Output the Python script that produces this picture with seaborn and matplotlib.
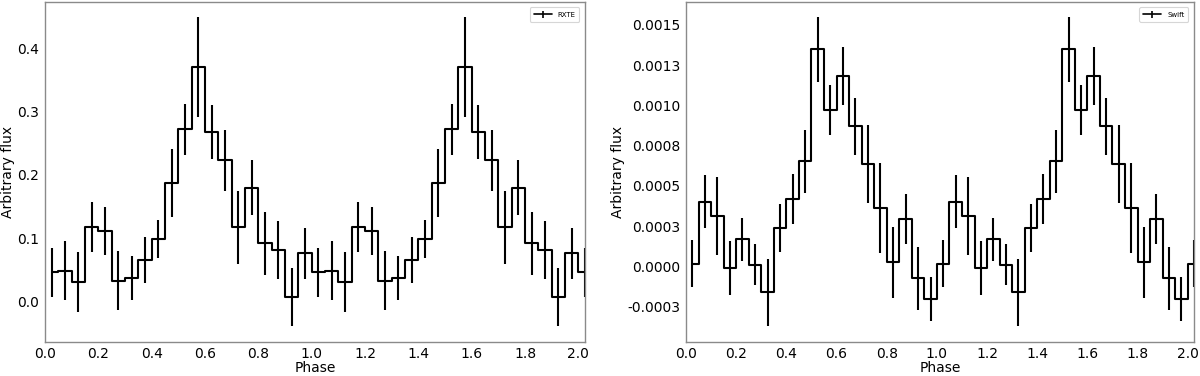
import numpy as np
import pandas as pd
import matplotlib
matplotlib.use("Agg")
import matplotlib.pyplot as plt
import seaborn as sns
from matplotlib.ticker import AutoMinorLocator, FixedLocator, FixedFormatter

# ---- data (one phase cycle, 20 bins; shown twice) ----
phase_centers = [0.025, 0.075, 0.125, 0.175, 0.225, 0.275, 0.325, 0.375, 0.425, 0.475,
                 0.525, 0.575, 0.625, 0.675, 0.725, 0.775, 0.825, 0.875, 0.925, 0.975]

rxte_flux = [0.046, 0.049, 0.031, 0.118, 0.111, 0.033, 0.037, 0.066, 0.099, 0.187,
             0.272, 0.370, 0.268, 0.223, 0.117, 0.180, 0.092, 0.082, 0.007, 0.076]
rxte_err = [0.039, 0.046, 0.047, 0.040, 0.038, 0.047, 0.035, 0.036, 0.030, 0.054,
            0.040, 0.079, 0.043, 0.048, 0.058, 0.043, 0.050, 0.046, 0.046, 0.040]

swift_flux = [0.000017, 0.000403, 0.000314, -0.000010, 0.000168, 0.000010, -0.000161, 0.000240,
              0.000420, 0.000652, 0.001347, 0.000970, 0.001183, 0.000869, 0.000635, 0.000362,
              0.000027, 0.000294, -0.000072, -0.000200]
swift_err = [0.000147, 0.000167, 0.000240, 0.000170, 0.000135, 0.000128, 0.000210, 0.000150,
             0.000156, 0.000195, 0.000200, 0.000154, 0.000178, 0.000176, 0.000244, 0.000280,
             0.000220, 0.000154, 0.000195, 0.000137]

swift_ticks = [-0.00025, 0.0, 0.00025, 0.0005, 0.00075, 0.001, 0.00125, 0.0015]
swift_tick_labels = ["-0.0003", "0.0000", "0.0003", "0.0005", "0.0008", "0.0010", "0.0013", "0.0015"]
x_ticks = [0.0, 0.2, 0.4, 0.6, 0.8, 1.0, 1.2, 1.4, 1.6, 1.8, 2.0]


def two_cycles(centers, vals, errs):
    x = list(centers) + [c + 1 for c in centers] + [centers[0] + 2]
    y = list(vals) * 2 + [vals[0]]
    e = list(errs) * 2 + [errs[0]]
    return pd.DataFrame({"Phase": x, "flux": y, "err": e})


sns.set_style("white")
plt.rcParams["font.family"] = ["DejaVu Sans"]
plt.rcParams["text.color"] = "black"
plt.rcParams["axes.labelcolor"] = "black"
plt.rcParams["xtick.labelcolor"] = "black"
plt.rcParams["ytick.labelcolor"] = "black"

fig = plt.figure(figsize=(12, 3.76), dpi=100)
ax1 = fig.add_axes([0.0375, 0.0912, 0.45, 0.904])
ax2 = fig.add_axes([0.5717, 0.0912, 0.4233, 0.904])

spine_col = "#8a8a8a"

for ax, vals, errs, lab in [(ax1, rxte_flux, rxte_err, "RXTE"),
                            (ax2, swift_flux, swift_err, "Swift")]:
    df = two_cycles(phase_centers, vals, errs)
    sns.lineplot(data=df, x="Phase", y="flux", ax=ax, color="black",
                 drawstyle="steps-mid", linewidth=1.5, estimator=None, sort=False)
    ax.errorbar(df["Phase"], df["flux"], yerr=df["err"], fmt="none",
                ecolor="black", elinewidth=1.5, capsize=0)
    # legend proxy (errorbar style handle, draws nothing in the axes)
    ax.errorbar([np.nan], [np.nan], yerr=[np.nan], fmt="-", color="black",
                linewidth=1.2, elinewidth=1.2, capsize=0, label=lab)
    ax.set_xlim(0, 2.025)
    ax.set_xticks(x_ticks)
    ax.xaxis.set_minor_locator(AutoMinorLocator(4))
    ax.yaxis.set_minor_locator(AutoMinorLocator(5))
    ax.set_xlabel("Phase", fontsize=10, labelpad=0, color="black")
    ax.set_ylabel("Arbitrary flux", fontsize=10, labelpad=2, color="black")
    ax.tick_params(axis="both", which="major", labelsize=10, length=2.5,
                   width=0.8, color=spine_col, direction="out", pad=1.5,
                   labelcolor="black")
    ax.tick_params(axis="both", which="minor", length=1.5, width=0.6,
                   color=spine_col, direction="out")
    for s in ax.spines.values():
        s.set_color(spine_col)
        s.set_linewidth(1.0)
    leg = ax.legend(loc="upper right", fontsize=5, frameon=True, handlelength=2.6,
                    borderpad=0.6, handletextpad=0.8, borderaxespad=0.8)
    leg.get_frame().set_edgecolor("#cccccc")
    leg.get_frame().set_linewidth(0.8)

ax1.set_yticks([0.0, 0.1, 0.2, 0.3, 0.4])
ax1.yaxis.set_minor_locator(AutoMinorLocator(5))
ax2.yaxis.set_major_locator(FixedLocator(swift_ticks))
ax2.yaxis.set_major_formatter(FixedFormatter(swift_tick_labels))
ax2.yaxis.set_minor_locator(AutoMinorLocator(5))

fig.savefig("out.png", dpi=100)
